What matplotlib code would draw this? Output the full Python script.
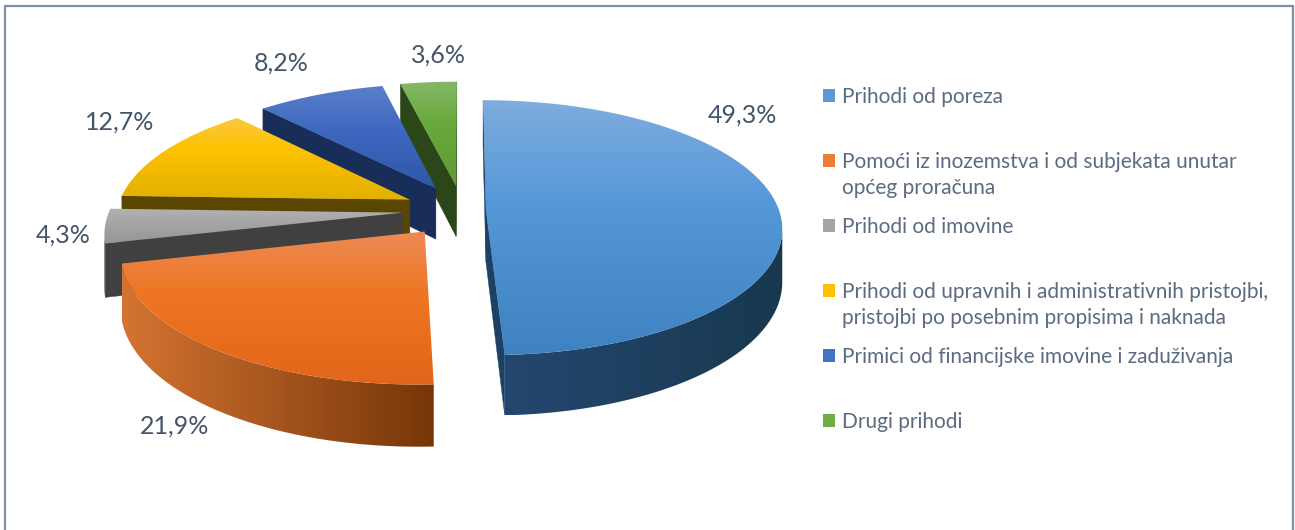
import numpy as np
import matplotlib.pyplot as plt
from matplotlib.colors import LinearSegmentedColormap
from matplotlib.patches import Polygon, Rectangle

plt.rcParams['font.family'] = ['Lato', 'DejaVu Sans']

# --- data ---
values = [49.3, 21.9, 4.3, 12.7, 8.2, 3.6]
legend_labels = [
    ["Prihodi od poreza"],
    ["Pomoći iz inozemstva i od subjekata unutar", "općeg proračuna"],
    ["Prihodi od imovine"],
    ["Prihodi od upravnih i administrativnih pristojbi,", "pristojbi po posebnim propisima i naknada"],
    ["Primici od financijske imovine i zaduživanja"],
    ["Drugi prihodi"],
]

# --- styles, one entry per slice ---
explode = [0.08, 0.21, 0.205, 0.20, 0.20, 0.20]
legend_colors = ['#5b9bd5', '#ed7d31', '#a5a5a5', '#ffc000', '#4472c4', '#70ad47']
top_colors = [
    ['#7fadde', '#5598d8', '#3f82c2'],
    ['#ec8a55', '#ee7623', '#e2661a'],
    ['#b2b2b2', '#a6a6a6', '#969696'],
    ['#fcc83c', '#fdc200', '#e2b000'],
    ['#5c7fc8', '#4069c2', '#2c58a6'],
    ['#85b867', '#69a93c', '#5e9a34'],
]
wall_left = ['#24476f', '#d47432', '#444444', '#6a5200', '#1f3663', '#34521f']
wall_right = ['#18384f', '#763608', '#404040', '#5c4600', '#13284f', '#264312']
cut_colors = ['#1d4163', '#8a4512', '#404040', '#5a4600', '#182d58', '#2b4719']
label_pos = [(742, 115), (175, 426), (63, 235), (120, 122), (281, 63), (438, 55)]
draw_order = [5, 4, 3, 2, 1, 0]

# --- pie geometry, in pixels of the final image ---
CX, CY = 462.5, 210
RX, RY = 293, 125
PERSP = 0.14
DEPTH = 52

LABEL_COLOR = '#44546a'
LEGEND_COLOR = '#5a6b82'
FRAME_COLOR = '#7f8ea8'


def project(u, v):
    # u to the right, v away from the viewer
    w = 1 + PERSP * v
    return CX + RX * u / w, CY - RY * v / w, DEPTH / w


def slice_ring(start, end, offset):
    # outline of one slice: apex, then the arc clockwise from 12 o'clock
    mid = np.radians((start + end) / 2)
    u0, v0 = offset * np.sin(mid), offset * np.cos(mid)
    theta = np.radians(np.linspace(start, end, int(end - start) * 2 + 2))
    u = np.concatenate([[u0], u0 + np.sin(theta), [u0]])
    v = np.concatenate([[v0], v0 + np.cos(theta), [v0]])
    return project(u, v)


def gradient_fill(ax, points, stops, vertical, zorder):
    # imshow gradient clipped to a polygon, no seams between pieces
    points = np.asarray(points)
    cmap = LinearSegmentedColormap.from_list('fill', stops)
    grad = np.linspace(0, 1, 256)
    grad = grad.reshape(-1, 1) if vertical else grad.reshape(1, -1)
    xmin, xmax = points[:, 0].min(), points[:, 0].max()
    ymin, ymax = points[:, 1].min(), points[:, 1].max()
    im = ax.imshow(grad, cmap=cmap, aspect='auto', interpolation='bilinear',
                   extent=(xmin, xmax, ymax, ymin), zorder=zorder)
    outline = Polygon(points, closed=True, transform=ax.transData,
                      facecolor='none', edgecolor='none')
    ax.add_patch(outline)
    im.set_clip_path(outline)


def draw_slice(ax, idx, start, end, zorder):
    x, y, d = slice_ring(start, end, explode[idx])
    n = len(x) - 1

    # walls: with a straight drop only edges running leftward face the viewer
    run = []
    runs = []
    for i in range(1, n - 1):
        if x[i + 1] < x[i]:
            run.append(i)
        elif run:
            runs.append(run)
            run = []
    if run:
        runs.append(run)

    for i in (0, n - 1):
        if x[i + 1] < x[i]:
            quad = [(x[i], y[i]), (x[i + 1], y[i + 1]),
                    (x[i + 1], y[i + 1] + d[i + 1]), (x[i], y[i] + d[i])]
            ax.add_patch(Polygon(quad, closed=True, facecolor=cut_colors[idx],
                                 edgecolor=cut_colors[idx], lw=0.3, zorder=zorder))

    for run in runs:
        ids = np.array(run + [run[-1] + 1])
        upper = np.column_stack([x[ids], y[ids]])
        lower = np.column_stack([x[ids], y[ids] + d[ids]])[::-1]
        gradient_fill(ax, np.vstack([upper, lower]), [wall_left[idx], wall_right[idx]],
                      False, zorder + 0.1)

    # top face
    stops = [(0, top_colors[idx][0]), (0.4, top_colors[idx][1]), (1, top_colors[idx][2])]
    gradient_fill(ax, np.column_stack([x, y]), stops, True, zorder + 0.2)


fig = plt.figure(figsize=(12.95, 5.30), dpi=100)
ax = fig.add_axes([0, 0, 1, 1])

edges = np.concatenate([[0], np.cumsum(values)]) / np.sum(values) * 360
for z, idx in enumerate(draw_order):
    draw_slice(ax, idx, edges[idx], edges[idx + 1], 2 + z)

for val, (lx, ly) in zip(values, label_pos):
    ax.text(lx, ly, f"{val:.1f}".replace('.', ',') + "%", fontsize=18,
            color=LABEL_COLOR, ha='center', va='center', zorder=20)

# legend
row_y = 96
for color, lines in zip(legend_colors, legend_labels):
    ax.add_patch(Rectangle((822.5, row_y - 7), 12.5, 12.5, facecolor=color, edgecolor='none', zorder=20))
    for j, line in enumerate(lines):
        ax.text(842, row_y + 1 + j * 26, line, fontsize=15, color=LEGEND_COLOR,
                ha='left', va='center', zorder=20)
    row_y += 65

# chart frame, cut off by the bottom of the picture
ax.plot([5, 5, 1293, 1293], [530, 6, 6, 530], color=FRAME_COLOR, lw=1.6, zorder=21)

ax.set_xlim(0, 1295)
ax.set_ylim(530, 0)
ax.axis('off')

fig.savefig('out.png', dpi=100)
